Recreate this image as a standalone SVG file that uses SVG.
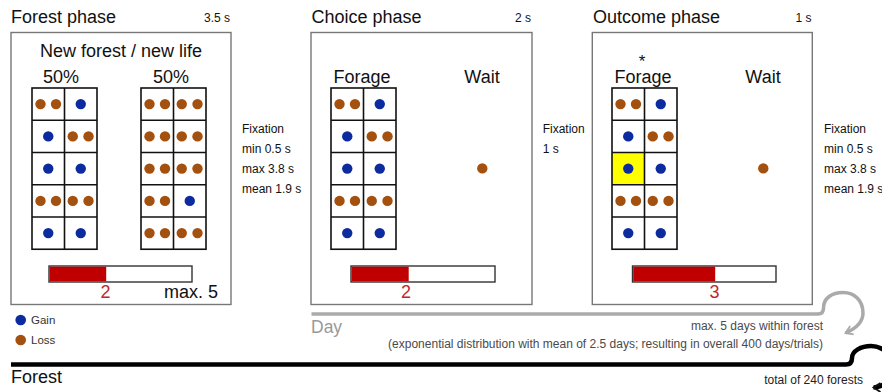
<svg xmlns="http://www.w3.org/2000/svg" xmlns:xlink="http://www.w3.org/1999/xlink" width="882" height="392" viewBox="0 0 882 392">
<style>
text{font-family:"Liberation Sans",Arial,sans-serif;fill:#111}
.title{font-size:18px}
.big{font-size:18px}
.small{font-size:12px}
.note{font-size:12px;fill:#4a4a4a}
.box{fill:#fff;stroke:#777;stroke-width:1.4}
.cell{fill:#fff;stroke:#111;stroke-width:1.6}
.gl{stroke:#111;stroke-width:1.6}
.gain{fill:#0b2b9f}
.loss{fill:#a4500e}
.barbg{fill:#fff;stroke:#333;stroke-width:1.4}
.barfill{fill:#c00000}
.red{fill:#c0272d;font-size:18px}
</style>
<defs>
<g id="frame">
<rect class="cell" x="0" y="0" width="65" height="161.25"/>
<line class="gl" x1="32.5" y1="0" x2="32.5" y2="161.25"/>
<line class="gl" x1="0" y1="32.25" x2="65" y2="32.25"/>
<line class="gl" x1="0" y1="64.5" x2="65" y2="64.5"/>
<line class="gl" x1="0" y1="96.75" x2="65" y2="96.75"/>
<line class="gl" x1="0" y1="129" x2="65" y2="129"/>
</g>
<g id="dotsA">
<circle class="loss" cx="8.5" cy="16.1" r="5.2"/><circle class="loss" cx="24" cy="16.1" r="5.2"/><circle class="gain" cx="48.75" cy="16.1" r="5.2"/>
<circle class="gain" cx="16.25" cy="48.4" r="5.2"/><circle class="loss" cx="40.75" cy="48.4" r="5.2"/><circle class="loss" cx="56.5" cy="48.4" r="5.2"/>
<circle class="gain" cx="16.25" cy="80.6" r="5.2"/><circle class="gain" cx="48.75" cy="80.6" r="5.2"/>
<circle class="loss" cx="8.5" cy="112.9" r="5.2"/><circle class="loss" cx="24" cy="112.9" r="5.2"/><circle class="loss" cx="40.75" cy="112.9" r="5.2"/><circle class="loss" cx="56.5" cy="112.9" r="5.2"/>
<circle class="gain" cx="16.25" cy="145.1" r="5.2"/><circle class="gain" cx="48.75" cy="145.1" r="5.2"/>
</g>
<marker id="arrGray" markerUnits="userSpaceOnUse" markerWidth="12" markerHeight="12" viewBox="0 0 12 12" refX="9" refY="6" orient="auto">
<path d="M2,1.5 L9,6 L2,10.5" fill="none" stroke="#aaa" stroke-width="1.8"/>
</marker>
<marker id="arrBlack" markerUnits="userSpaceOnUse" markerWidth="12" markerHeight="12" viewBox="0 0 12 12" refX="9" refY="6" orient="auto">
<path d="M2,1.5 L9,6 L2,10.5" fill="none" stroke="#111" stroke-width="1.8"/>
</marker>
</defs>

<g id="forest-phase">
<text class="title" x="11" y="23">Forest phase</text>
<text class="small" x="230" y="22" text-anchor="end">3.5 s</text>
<rect class="box" x="11" y="32.5" width="220" height="272"/>
<text class="big" x="121" y="57" text-anchor="middle">New forest / new life</text>
<text class="big" x="61" y="83" text-anchor="middle">50%</text>
<text class="big" x="171" y="83" text-anchor="middle">50%</text>
<g transform="translate(32,88)">
<use xlink:href="#frame"/>
<use xlink:href="#dotsA"/>
</g>
<g transform="translate(141,88)">
<use xlink:href="#frame"/>
<circle class="loss" cx="8.5" cy="16.1" r="5.2"/><circle class="loss" cx="24" cy="16.1" r="5.2"/><circle class="loss" cx="40.75" cy="16.1" r="5.2"/><circle class="loss" cx="56.5" cy="16.1" r="5.2"/>
<circle class="loss" cx="8.5" cy="48.4" r="5.2"/><circle class="loss" cx="24" cy="48.4" r="5.2"/><circle class="loss" cx="40.75" cy="48.4" r="5.2"/><circle class="loss" cx="56.5" cy="48.4" r="5.2"/>
<circle class="loss" cx="8.5" cy="80.6" r="5.2"/><circle class="loss" cx="24" cy="80.6" r="5.2"/><circle class="loss" cx="40.75" cy="80.6" r="5.2"/><circle class="loss" cx="56.5" cy="80.6" r="5.2"/>
<circle class="loss" cx="8.5" cy="112.9" r="5.2"/><circle class="loss" cx="24" cy="112.9" r="5.2"/><circle class="gain" cx="48.75" cy="112.9" r="5.2"/>
<circle class="loss" cx="8.5" cy="145.1" r="5.2"/><circle class="loss" cx="24" cy="145.1" r="5.2"/><circle class="loss" cx="40.75" cy="145.1" r="5.2"/><circle class="loss" cx="56.5" cy="145.1" r="5.2"/>
</g>
<rect class="barbg" x="49" y="266" width="143" height="16"/>
<rect class="barfill" x="49.7" y="266.7" width="56.5" height="14.6"/>
<text class="red" x="105.5" y="297.7" text-anchor="middle">2</text>
<text class="big" x="218" y="297.7" text-anchor="end">max. 5</text>
</g>

<g id="fixation-1">
<text class="small" x="242" y="133">Fixation</text>
<text class="small" x="242" y="153">min 0.5 s</text>
<text class="small" x="242" y="173">max 3.8 s</text>
<text class="small" x="242" y="193">mean 1.9 s</text>
</g>

<g id="choice-phase">
<text class="title" x="311.5" y="23">Choice phase</text>
<text class="small" x="531" y="22" text-anchor="end">2 s</text>
<rect class="box" x="311" y="32.5" width="221" height="272"/>
<text class="big" x="362" y="83" text-anchor="middle">Forage</text>
<text class="big" x="482" y="83" text-anchor="middle">Wait</text>
<g transform="translate(331,88)">
<use xlink:href="#frame"/>
<use xlink:href="#dotsA"/>
</g>
<circle class="loss" cx="482.3" cy="168.4" r="5.2"/>
<rect class="barbg" x="351" y="266" width="144" height="16"/>
<rect class="barfill" x="351.7" y="266.7" width="57" height="14.6"/>
<text class="red" x="406" y="297.7" text-anchor="middle">2</text>
</g>

<g id="fixation-2">
<text class="small" x="542.7" y="133">Fixation</text>
<text class="small" x="542.7" y="153">1 s</text>
</g>

<g id="outcome-phase">
<text class="title" x="593" y="23">Outcome phase</text>
<text class="small" x="811.5" y="22" text-anchor="end">1 s</text>
<rect class="box" x="592.3" y="32.5" width="220" height="272"/>
<text x="642" y="67" text-anchor="middle" style="font-size:17px">*</text>
<text class="big" x="643" y="83" text-anchor="middle">Forage</text>
<text class="big" x="763" y="83" text-anchor="middle">Wait</text>
<g transform="translate(612,88)">
<rect x="0" y="64.5" width="32.5" height="32.25" fill="#ffff00"/>
<rect x="0" y="0" width="65" height="161.25" fill="none" stroke="#111" stroke-width="1.6"/>
<line class="gl" x1="32.5" y1="0" x2="32.5" y2="161.25"/>
<line class="gl" x1="0" y1="32.25" x2="65" y2="32.25"/>
<line class="gl" x1="0" y1="64.5" x2="65" y2="64.5"/>
<line class="gl" x1="0" y1="96.75" x2="65" y2="96.75"/>
<line class="gl" x1="0" y1="129" x2="65" y2="129"/>
<use xlink:href="#dotsA"/>
</g>
<circle class="loss" cx="763.3" cy="168.4" r="5.2"/>
<rect class="barbg" x="632.5" y="266" width="143.5" height="16"/>
<rect class="barfill" x="633.2" y="266.7" width="82" height="14.6"/>
<text class="red" x="714.6" y="297.7" text-anchor="middle">3</text>
</g>

<g id="fixation-3">
<text class="small" x="824" y="133">Fixation</text>
<text class="small" x="824" y="153">min 0.5 s</text>
<text class="small" x="824" y="173">max 3.8 s</text>
<text class="small" x="824" y="193">mean 1.9 s</text>
</g>

<g id="legend">
<circle class="gain" cx="20.7" cy="320" r="5.3"/>
<text x="31" y="324" style="font-size:11.5px;fill:#333">Gain</text>
<circle class="loss" cx="20.7" cy="340" r="5.3"/>
<text x="31" y="344" style="font-size:11.5px;fill:#333">Loss</text>
</g>

<g id="connectors">
<path d="M311.5,314 H818 Q823.5,314 823.5,308 C823.5,298 832,292.5 843,292.5 C855,292.5 863,301 863,313 C863,322 856,328.5 845.5,333" fill="none" stroke="#aaa" stroke-width="3.5" marker-end="url(#arrGray)"/>
<path d="M11,364.5 H846 Q852,364.5 852,358 C852,351 861,346 871,346 C883,346 893,356 893,367 C893,378 884,387.5 873.5,387.5" fill="none" stroke="#000" stroke-width="4.5" marker-end="url(#arrBlack)"/>
</g>

<g id="day-labels">
<text x="311" y="333" style="font-size:17.5px;fill:#999">Day</text>
<text class="note" x="823" y="329.5" text-anchor="end">max. 5 days within forest</text>
<text class="note" x="823" y="348" text-anchor="end">(exponential distribution with mean of 2.5 days; resulting in overall 400 days/trials)</text>
</g>

<g id="forest-labels">
<text x="11" y="383" style="font-size:18px">Forest</text>
<text class="note" x="863" y="383.5" text-anchor="end" style="fill:#222">total of 240 forests</text>
</g>
</svg>
